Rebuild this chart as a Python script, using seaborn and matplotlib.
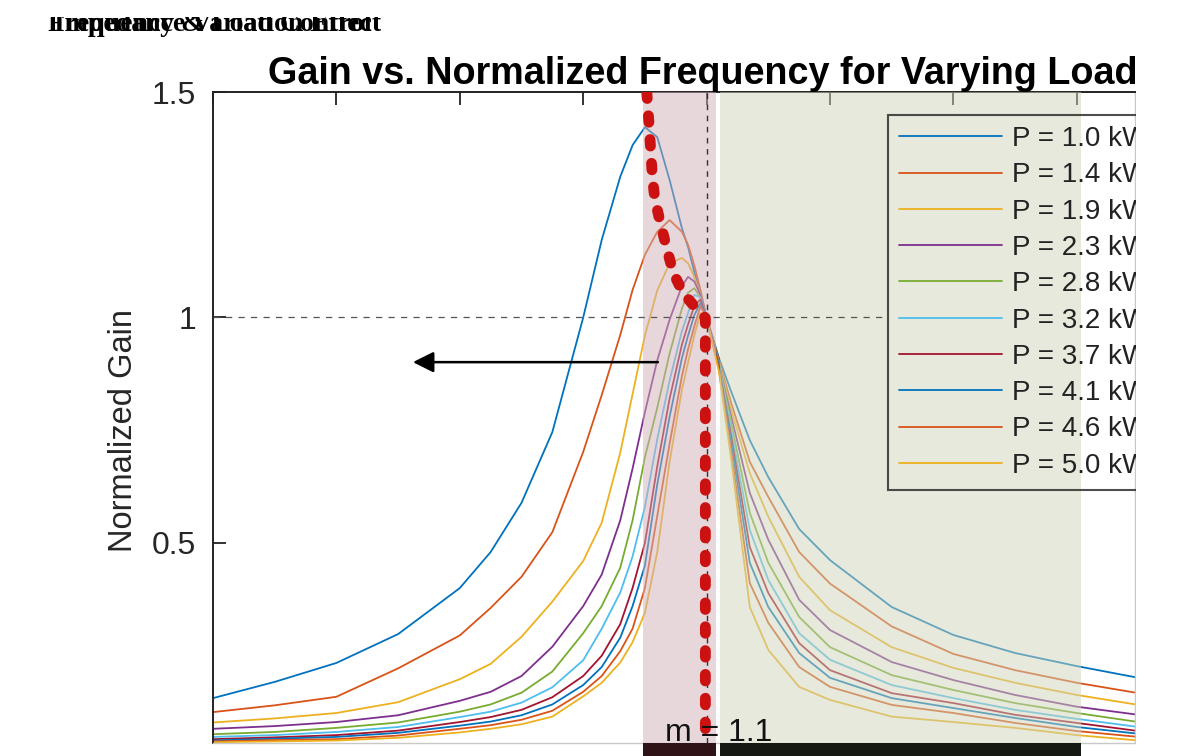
import matplotlib
matplotlib.use("Agg")
import matplotlib.pyplot as plt
from matplotlib.lines import Line2D
from matplotlib.patches import Rectangle
import numpy as np
import pandas as pd
import seaborn as sns

# normalized switching frequency fn = fs / fr
fn_grid = [0.2, 0.3, 0.4, 0.5, 0.6, 0.65, 0.7, 0.75, 0.8, 0.83, 0.86, 0.88, 0.9, 0.92,
           0.94, 0.96, 0.97, 0.98, 0.99, 1.0, 1.02, 1.04, 1.07, 1.1, 1.15, 1.2, 1.3,
           1.4, 1.5, 1.6, 1.7]

loads_kw = [1.0, 1.4, 1.9, 2.3, 2.8, 3.2, 3.7, 4.1, 4.6, 5.0]

# gain curves, one per load
gain_p10 = [.156, .192, .234, .298, .400, .480, .589, .746, 1.0, 1.172, 1.312, 1.382, 1.422, 1.400,
            1.305, 1.198, 1.156, 1.101, 1.048, 1.0, .910, .835, .728, .646, .531, .462, .358,
            .296, .256, .227, .201]
gain_p14 = [.125, .140, .159, .222, .295, .356, .425, .524, .702, .828, .961, 1.061, 1.139, 1.190,
            1.216, 1.190, 1.161, 1.116, 1.061, 1.0, .905, .810, .680, .602, .480, .410, .315,
            .254, .218, .190, .167]
gain_p19 = [.102, .111, .123, .147, .198, .232, .292, .370, .460, .545, .700, .830, .960, 1.060,
            1.120, 1.132, 1.120, 1.090, 1.050, 1.0, .900, .795, .655, .558, .425, .351, .269,
            .223, .190, .163, .141]
gain_p23 = [.088, .094, .103, .118, .150, .170, .205, .270, .360, .430, .550, .665, .790, .905,
            .995, 1.070, 1.090, 1.080, 1.050, 1.0, .897, .780, .611, .507, .374, .307, .236,
            .196, .163, .137, .119]
gain_p28 = [.076, .081, .090, .102, .126, .142, .168, .215, .300, .360, .445, .550, .690, .800,
            .920, 1.020, 1.055, 1.065, 1.045, 1.0, .895, .765, .567, .456, .336, .269, .207,
            .174, .145, .123, .103]
gain_p32 = [.070, .074, .081, .092, .114, .126, .146, .180, .240, .310, .390, .470, .580, .730,
            .860, .970, 1.010, 1.050, 1.045, 1.0, .893, .750, .529, .418, .300, .241, .185,
            .156, .130, .110, .092]
gain_p37 = [.065, .069, .074, .084, .103, .114, .130, .158, .205, .250, .320, .400, .500, .670,
            .820, .940, .985, 1.025, 1.040, 1.0, .890, .735, .491, .389, .278, .218, .167,
            .145, .119, .101, .083]
gain_p41 = [.062, .066, .070, .079, .095, .104, .118, .142, .185, .225, .290, .360, .450, .630,
            .780, .910, .960, 1.005, 1.032, 1.0, .888, .720, .456, .358, .256, .201, .156,
            .134, .112, .092, .077]
gain_p46 = [.060, .063, .065, .073, .088, .096, .108, .128, .170, .205, .260, .310, .400, .560,
            .720, .870, .930, .980, 1.025, 1.0, .885, .700, .411, .323, .225, .181, .141,
            .123, .101, .083, .070]
gain_p50 = [.058, .060, .062, .068, .080, .088, .098, .115, .160, .190, .235, .280, .345, .480,
            .680, .840, .900, .960, 1.010, 1.0, .880, .684, .358, .263, .181, .152, .115,
            .103, .090, .074, .062]
gains = [gain_p10, gain_p14, gain_p19, gain_p23, gain_p28,
         gain_p32, gain_p37, gain_p41, gain_p46, gain_p50]

# red dotted peak-gain locus
locus_fn = [0.903, 0.907, 0.912, 0.916, 0.925, 0.936, 0.946, 0.962, 0.985, 0.998, 0.998]
locus_gain = [1.5, 1.422, 1.314, 1.263, 1.210, 1.150, 1.099, 1.054, 1.017, 0.999, 0.0565]

arrow_from = (0.921, 0.901)
arrow_to = (0.524, 0.901)
ref_fn, ref_gain, ref_gain_end = 1.0, 1.0, 1.289
region_below = (0.897, 1.015)
region_above = (1.022, 1.607)
m_label_pos = (0.9326, 0.061)

matlab_colors = ["#0072BD", "#D95319", "#EDB120", "#7E2F8E", "#77AC30",
                 "#4DBEEE", "#A2142F", "#0072BD", "#D95319", "#EDB120"]

W, H = 1190, 756


def main() -> None:
    sns.set_theme(style="white")
    plt.rcParams["font.family"] = ["Liberation Sans", "DejaVu Sans"]

    labels = [f"P = {p:.1f} kW" for p in loads_kw]
    df = pd.DataFrame({
        "fn": np.tile(fn_grid, len(loads_kw)),
        "gain": np.concatenate(gains),
        "load": np.repeat(labels, len(fn_grid)),
    })

    fig = plt.figure(figsize=(W / 100, H / 100), dpi=100)
    ax = fig.add_axes([213 / W, 1 - 743 / H, 922 / W, 651 / H])
    ax.set_facecolor("white")

    sns.lineplot(data=df, x="fn", y="gain", hue="load", hue_order=labels,
                 palette=matlab_colors, estimator=None, linewidth=1.3,
                 legend=False, ax=ax)

    ax.set_xlim(0.2, 1.6943)
    ax.set_ylim(0.0565, 1.5)

    # shaded operating regions
    ax.axvspan(*region_below, color="#d1b1b7", alpha=0.5, lw=0, zorder=2.6)
    ax.axvspan(*region_above, color="#cfd5bb", alpha=0.5, lw=0, zorder=2.6)

    ax.hlines(ref_gain, 0.2, ref_gain_end, colors="#555555", lw=0.9,
              linestyles=(0, (5, 5)), zorder=3)
    ax.axvline(ref_fn, color="#333333", lw=1.0, ls=(0, (4, 4)), zorder=3)

    ax.plot(locus_fn, locus_gain, color="#cc1111", lw=7.8, ls=(0, (0.6, 1.6)),
            dash_capstyle="round", solid_capstyle="round", zorder=4)

    ax.annotate("", xy=arrow_to, xytext=arrow_from,
                arrowprops=dict(arrowstyle="-|>,head_length=0.9,head_width=0.45",
                                color="black", lw=1.8, mutation_scale=14,
                                shrinkA=0, shrinkB=0), zorder=4)

    ax.text(*m_label_pos, "m = 1.1", fontsize=23, color="#111111",
            ha="left", va="baseline", zorder=6, clip_on=False)

    # axes styling, MATLAB like
    ax.set_xlabel("")
    ax.set_xticks([0.2, 0.4, 0.6, 0.8, 1.0, 1.2, 1.4, 1.6])
    ax.xaxis.set_ticks_position("top")
    ax.tick_params(axis="x", direction="in", length=9, width=1.3, colors="#222222",
                   labeltop=False, labelbottom=False)
    ax.set_yticks([0.5, 1.0, 1.5])
    ax.set_yticklabels(["0.5", "1", "1.5"])
    ax.tick_params(axis="y", direction="in", length=9, width=1.3, colors="#222222",
                   labelsize=23, pad=12, labelcolor="#262626", left=True)
    for side in ("left", "top"):
        ax.spines[side].set_color("#222222")
        ax.spines[side].set_linewidth(1.4)
    for side in ("right", "bottom"):
        ax.spines[side].set_color("#c8c8c8")
        ax.spines[side].set_linewidth(1.0)

    ax.set_ylabel("Normalized Gain", fontsize=23.5, color="#262626")
    ax.yaxis.set_label_coords((139 - 213) / 922, (743 - 430) / 651)

    handles = [Line2D([], [], color=c, lw=1.3) for c in matlab_colors]
    leg = ax.legend(handles, labels, loc="upper left",
                    bbox_to_anchor=(888 / W, 1 - 115 / H), bbox_transform=fig.transFigure,
                    fontsize=20, handlelength=3.7, handletextpad=0.36, labelspacing=0.37,
                    borderpad=0.4, borderaxespad=0, fancybox=False, frameon=True)
    leg.get_frame().set_facecolor("none")
    leg.get_frame().set_edgecolor("#222222")
    leg.get_frame().set_linewidth(1.5)
    for t in leg.get_texts():
        t.set_color("#222222")
    leg.set_zorder(5)

    fig.text(268 / W, 1 - 84 / H, "Gain vs. Normalized Frequency for Varying Load",
             fontsize=27.2, fontweight="bold", ha="left", va="baseline", color="black")

    # garbled, overlapping caption at the top left
    for s, dx in (("Frequency & Load Control", 0), ("Impedance Variation Effect", 6)):
        fig.text((48 + dx) / W, 1 - 31 / H, s, fontsize=20, fontweight="bold",
                 family=["Liberation Serif", "DejaVu Serif"], ha="left", va="baseline",
                 color="black")

    # dark strip under the shaded regions
    fig.add_artist(Rectangle((643 / W, 0), (716 - 643) / W, 13 / H,
                             transform=fig.transFigure, color="#2e1416", lw=0, zorder=8))
    fig.add_artist(Rectangle((720 / W, 0), (1081 - 720) / W, 13 / H,
                             transform=fig.transFigure, color="#161813", lw=0, zorder=8))

    # the source picture was cropped on the right and at the top
    fig.add_artist(Rectangle((1136 / W, 0), 1 - 1136 / W, 1,
                             transform=fig.transFigure, color="white", lw=0, zorder=20))
    fig.add_artist(Rectangle((0, 1 - 17 / H), 1, 17 / H,
                             transform=fig.transFigure, color="white", lw=0, zorder=20))

    fig.savefig("out.png", dpi=100)
    plt.close(fig)


if __name__ == "__main__":
    main()
